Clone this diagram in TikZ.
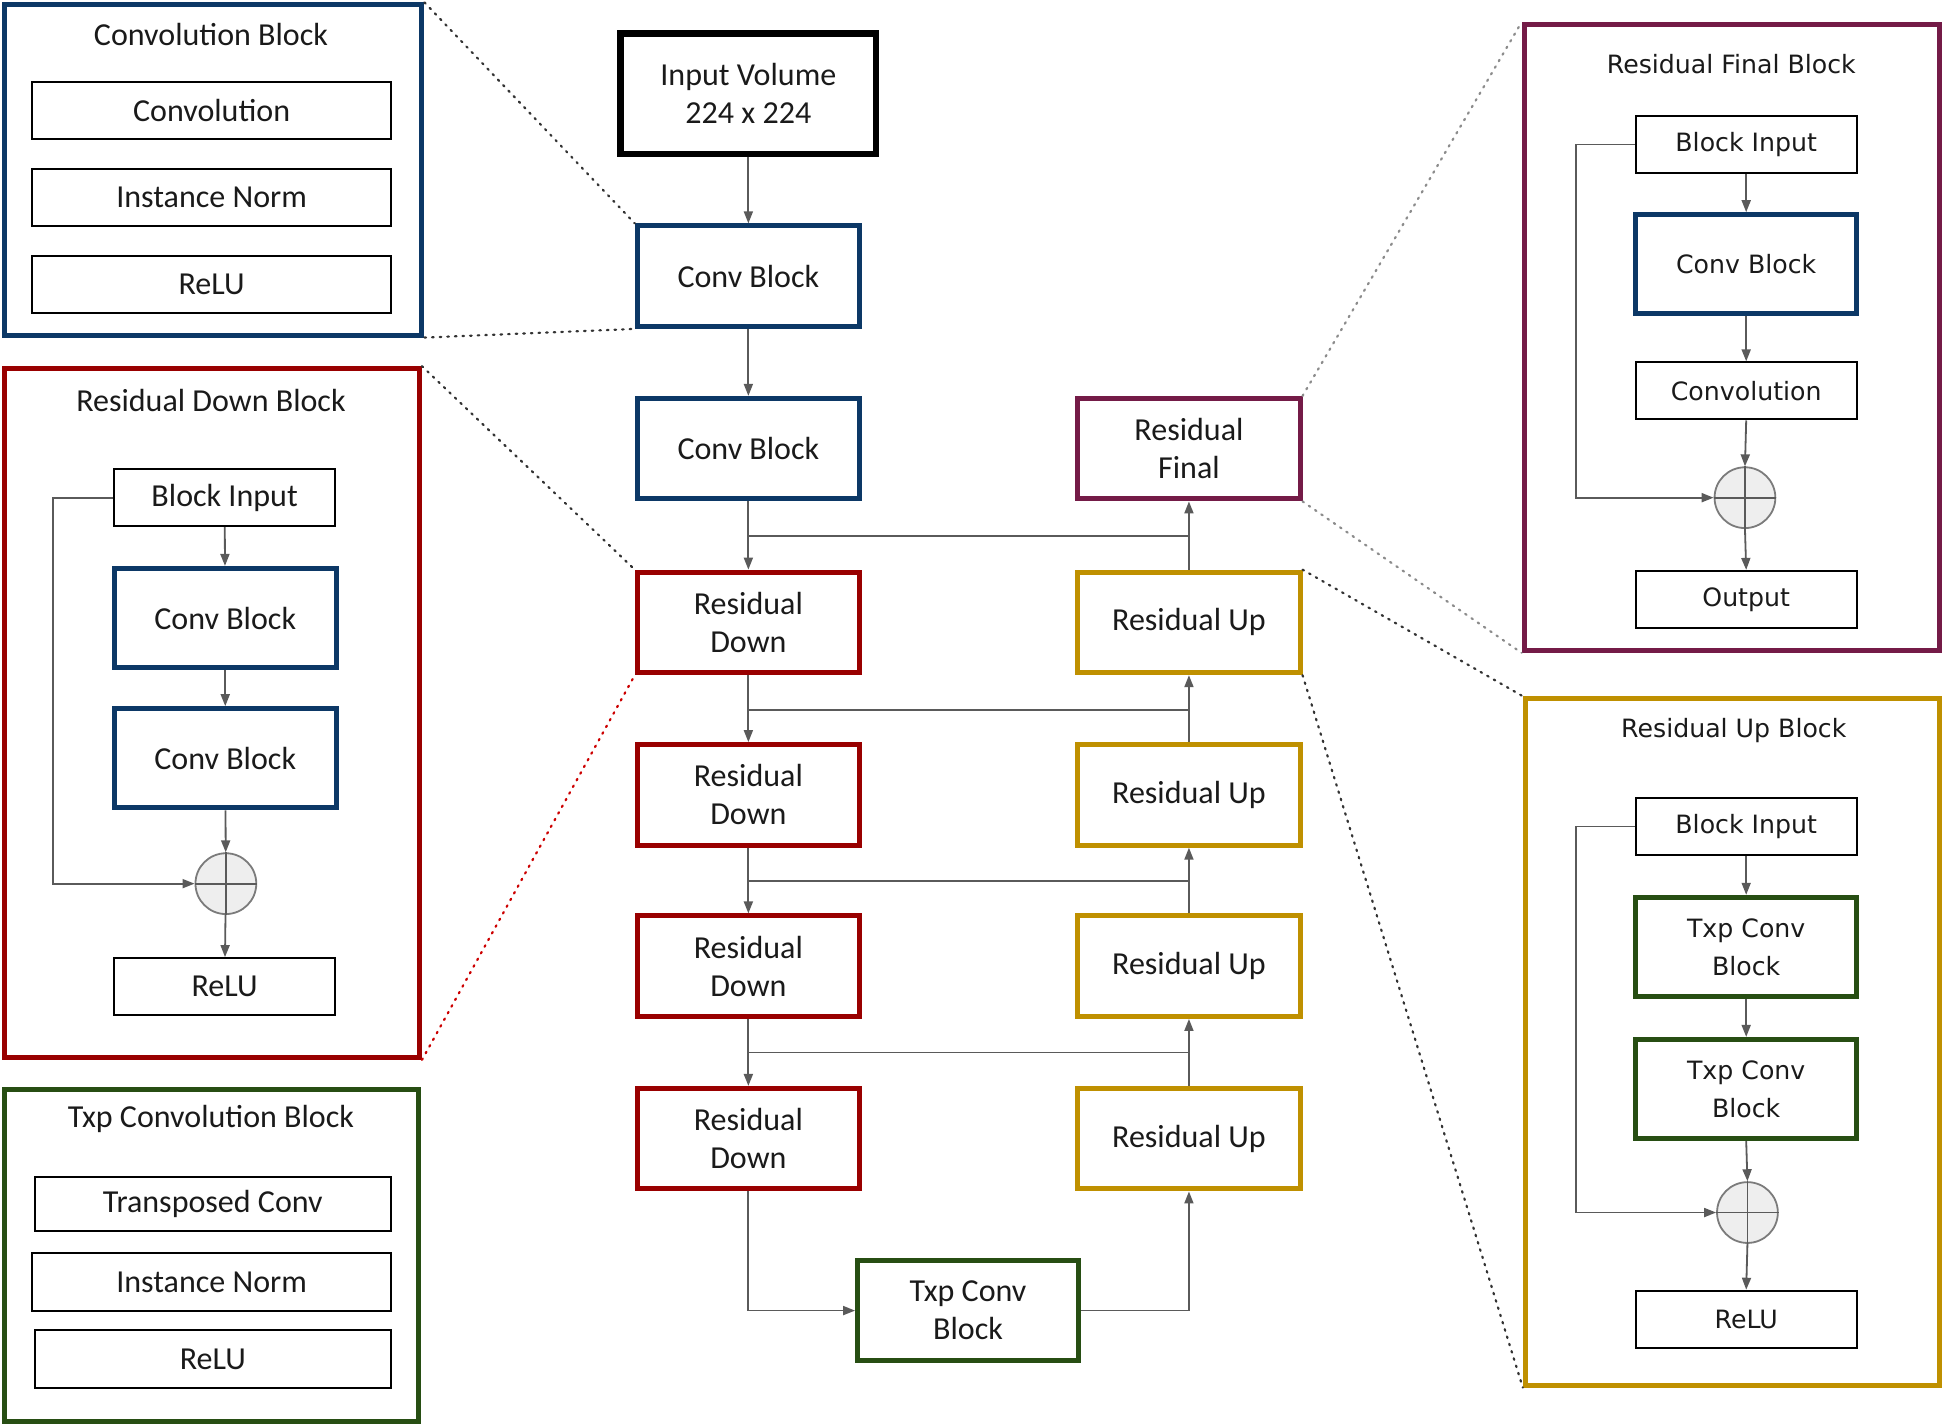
\documentclass[tikz,border=0pt]{standalone}
\usepackage{fontspec}
\setmainfont{Carlito}
\newfontfamily\rfont{DejaVu Sans}
\usetikzlibrary{arrows.meta}
\definecolor{cblue}{HTML}{0C3866}
\definecolor{cred}{HTML}{990000}
\definecolor{cgreen}{HTML}{274E13}
\definecolor{cgold}{HTML}{BF9000}
\definecolor{cpurple}{HTML}{741B47}
\definecolor{cline}{HTML}{5A5A5A}
\definecolor{ctext}{HTML}{1A1A1A}
\definecolor{csum}{HTML}{EEEEEE}
\begin{document}
\begin{tikzpicture}[x=0.62pt,y=-0.62pt,
  every node/.style={font=\fontsize{16}{19}\selectfont, text=ctext, align=center, inner sep=0pt},
  rtext/.style={font=\rfont\fontsize{12.6}{19}\selectfont},
  panel/.style={draw, line width=2.5pt},
  thinbox/.style={draw=black, line width=1pt},
  thickbox/.style={draw, line width=2.5pt},
  mainbox/.style={thickbox, minimum width={179*0.62pt}, minimum height={81*0.62pt}},
  smallbox/.style={thinbox, minimum width={178*0.62pt}, minimum height={46*0.62pt}},
  widebox/.style={thinbox, minimum width={289*0.62pt}, minimum height={46*0.62pt}},
  innerthick/.style={thickbox, minimum width={179*0.62pt}, minimum height={80*0.62pt}},
  sumnode/.style={circle, draw=cline!80, fill=csum, line width=0.9pt, minimum size={49*0.62pt}},
  flow/.style={draw=cline, line width=0.9pt, -{Triangle[length=6pt,width=4.5pt]}},
  plain/.style={draw=cline, line width=0.9pt},
  dots/.style={line width=1.1pt, dash pattern=on 0.8pt off 3pt, line cap=round}
]
\useasboundingbox (0,0) rectangle (1568,1150);

% ---------- Left panels ----------
\node[panel, draw=cblue, minimum width={336*0.62pt}, minimum height={266*0.62pt}] (pconv) at (172,137) {};
\node (tconv) at (170,28) {Convolution Block};
\node[widebox] (lconv) at (170.5,89) {Convolution};
\node[widebox] (lin) at (170.5,159) {Instance Norm};
\node[widebox] (lrelu) at (170.5,229) {ReLU};

\node[panel, draw=cred, minimum width={334*0.62pt}, minimum height={555*0.62pt}] (pdown) at (171,574.5) {};
\node (tdown) at (170,323) {Residual Down Block};
\node[smallbox] (dbi) at (181,401) {Block Input};
\node[innerthick, draw=cblue] (dcb1) at (181.5,498) {Conv Block};
\node[innerthick, draw=cblue] (dcb2) at (181.5,611) {Conv Block};
\node[sumnode] (dsum) at (182,712) {};
\node[smallbox] (drelu) at (181,795) {ReLU};
\draw[plain] (dsum.north) -- (dsum.south);
\draw[plain] (dsum.west) -- (dsum.east);
\draw[flow] (dbi) -- (dcb1);
\draw[flow] (dcb1) -- (dcb2);
\draw[flow] (dcb2) -- (dsum);
\draw[flow] (dsum) -- (drelu);
\coordinate (dskip) at (43,401);
\draw[flow] (dbi.west) -- (dskip) |- (dsum.west);

\node[panel, draw=cgreen, minimum width={333*0.62pt}, minimum height={267*0.62pt}] (ptxp) at (170.5,1011.5) {};
\node (ttxp) at (170,902) {Txp Convolution Block};
\node[thinbox, minimum width={287*0.62pt}, minimum height={44*0.62pt}] (ttc) at (171.5,970) {Transposed Conv};
\node[widebox] (tin) at (170.5,1033) {Instance Norm};
\node[thinbox, minimum width={287*0.62pt}, minimum height={46*0.62pt}] (trelu) at (171.5,1095) {ReLU};

% ---------- Centre ----------
\node[thickbox, draw=black, line width=3.1pt, minimum width={206*0.62pt}, minimum height={97*0.62pt}] (in) at (603,75.5) {Input Volume\\224 x 224};
\node[mainbox, draw=cblue] (c1) at (603,222.5) {Conv Block};
\node[mainbox, draw=cblue] (c2) at (603,361.5) {Conv Block};
\node[mainbox, draw=cred] (rd1) at (603,501.5) {Residual\\Down};
\node[mainbox, draw=cred] (rd2) at (603,640.5) {Residual\\Down};
\node[mainbox, draw=cred] (rd3) at (603,778.5) {Residual\\Down};
\node[mainbox, draw=cred] (rd4) at (603,917.5) {Residual\\Down};
\node[mainbox, draw=cpurple] (rf) at (958,361.5) {Residual\\Final};
\node[mainbox, draw=cgold] (ru1) at (958,501.5) {Residual Up};
\node[mainbox, draw=cgold] (ru2) at (958,640.5) {Residual Up};
\node[mainbox, draw=cgold] (ru3) at (958,778.5) {Residual Up};
\node[mainbox, draw=cgold] (ru4) at (958,917.5) {Residual Up};
\node[mainbox, draw=cgreen, minimum width={178*0.62pt}, minimum height={80*0.62pt}] (txp) at (780,1056) {Txp Conv\\Block};

\draw[flow] (in) -- (c1);
\draw[flow] (c1) -- (c2);
\draw[flow] (c2) -- (rd1);
\draw[flow] (rd1) -- (rd2);
\draw[flow] (rd2) -- (rd3);
\draw[flow] (rd3) -- (rd4);
\draw[flow] (ru1) -- (rf);
\draw[flow] (ru2) -- (ru1);
\draw[flow] (ru3) -- (ru2);
\draw[flow] (ru4) -- (ru3);
\coordinate (j1) at (603,432); \coordinate (k1) at (958,432);
\coordinate (j2) at (603,572); \coordinate (k2) at (958,572);
\coordinate (j3) at (603,710); \coordinate (k3) at (958,710);
\coordinate (j4) at (603,848); \coordinate (k4) at (958,848);
\draw[plain] (j1) -- (k1);
\draw[plain] (j2) -- (k2);
\draw[plain] (j3) -- (k3);
\draw[plain] (j4) -- (k4);
\draw[flow] (rd4.south) |- (txp.west);
\draw[flow] (txp.east) -| (ru4.south);

% ---------- Right panels ----------
\node[panel, draw=cpurple, minimum width={335*0.62pt}, minimum height={504*0.62pt}] (pfin) at (1395.5,272) {};
\node[rtext] (tfin) at (1395,52) {Residual Final Block};
\node[rtext, smallbox] (fbi) at (1407,116.5) {Block Input};
\node[rtext, innerthick, draw=cblue, minimum width={178*0.62pt}] (fcb) at (1407,213) {Conv Block};
\node[rtext, smallbox] (fconv) at (1407,315) {Convolution};
\node[sumnode] (fsum) at (1406,401) {};
\node[rtext, smallbox] (fout) at (1407,483) {Output};
\draw[plain] (fsum.north) -- (fsum.south);
\draw[plain] (fsum.west) -- (fsum.east);
\draw[flow] (fbi) -- (fcb);
\draw[flow] (fcb) -- (fconv);
\draw[flow] (fconv.south) -- (fsum.north);
\draw[flow] (fsum.south) -- (fout.north);
\coordinate (fskip) at (1270,116.5);
\draw[flow] (fbi.west) -- (fskip) |- (fsum.west);

\node[panel, draw=cgold, minimum width={334*0.62pt}, minimum height={553*0.62pt}] (pup) at (1396,839.5) {};
\node[rtext] (tup) at (1397,589) {Residual Up Block};
\node[rtext, smallbox] (ubi) at (1407,666) {Block Input};
\node[rtext, innerthick, draw=cgreen, minimum width={178*0.62pt}] (ut1) at (1407,763) {Txp Conv\\Block};
\node[rtext, innerthick, draw=cgreen, minimum width={178*0.62pt}] (ut2) at (1407,877.5) {Txp Conv\\Block};
\node[sumnode] (usum) at (1408,977) {};
\node[rtext, smallbox] (urelu) at (1407,1063) {ReLU};
\draw[plain] (usum.north) -- (usum.south);
\draw[plain] (usum.west) -- (usum.east);
\draw[flow] (ubi) -- (ut1);
\draw[flow] (ut1) -- (ut2);
\draw[flow] (ut2.south) -- (usum.north);
\draw[flow] (usum.south) -- (urelu.north);
\coordinate (uskip) at (1270,666);
\draw[flow] (ubi.west) -- (uskip) |- (usum.west);

% ---------- Zoom (dotted) lines ----------
\draw[dots, black!80] (pconv.north east) -- (c1.north west);
\draw[dots, black!80] (pconv.south east) -- (c1.south west);
\draw[dots, black!80] (pdown.north east) -- (rd1.north west);
\draw[dots, red!80!black] (pdown.south east) -- (rd1.south west);
\draw[dots, black!45] (rf.north east) -- (pfin.north west);
\draw[dots, black!45] (rf.south east) -- (pfin.south west);
\draw[dots, black!80] (ru1.north east) -- (pup.north west);
\draw[dots, black!80] (ru1.south east) -- (pup.south west);
\end{tikzpicture}
\end{document}
